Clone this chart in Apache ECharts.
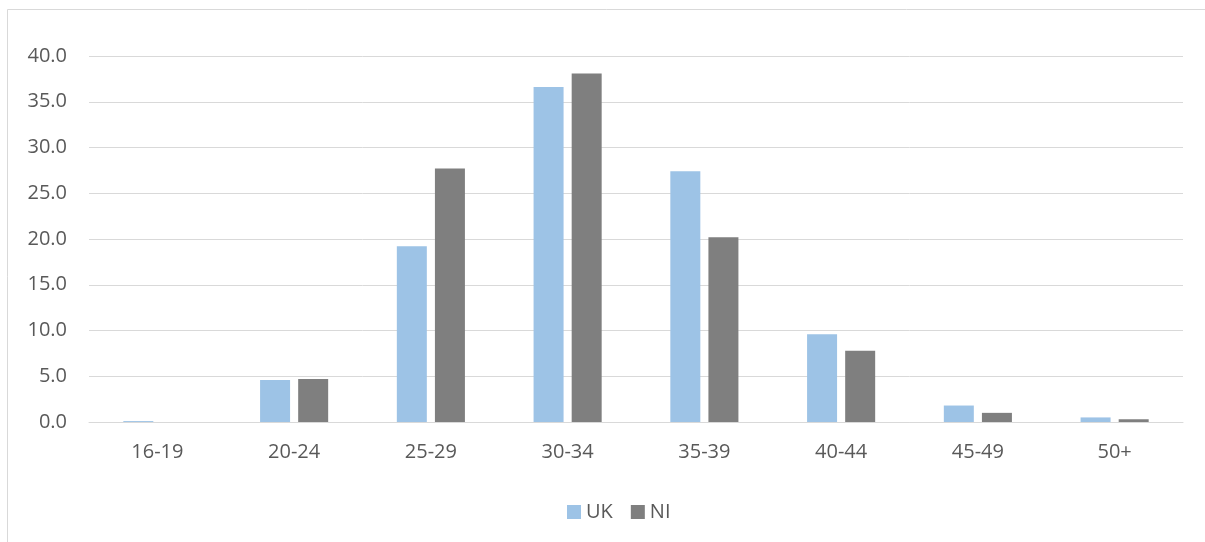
<!DOCTYPE html>
<html>
<head>
<meta charset="utf-8">
<script src="https://cdn.jsdelivr.net/npm/echarts@6/dist/echarts.min.js"></script>
<style>
html,body{margin:0;padding:0;background:#fff;}
#c{width:1205px;height:542px;}
</style>
</head>
<body>
<div id="c"></div>
<script>
var categories = ['16-19','20-24','25-29','30-34','35-39','40-44','45-49','50+'];
var ukValues = [0.1, 4.6, 19.2, 36.6, 27.4, 9.6, 1.8, 0.5];
var niValues = [0.0, 4.7, 27.7, 38.1, 20.2, 7.8, 1.0, 0.3];
var seriesNames = ['UK', 'NI'];

var chart = echarts.init(document.getElementById('c'), null, {renderer: 'canvas'});
var font = '"Open Sans", "Liberation Sans", sans-serif';
chart.setOption({
  animation: false,
  backgroundColor: '#ffffff',
  graphic: [{
    type: 'rect',
    shape: {x: 7.5, y: 9.5, width: 1230, height: 560},
    style: {fill: 'none', stroke: '#d9d9d9', lineWidth: 1},
    silent: true
  }],
  grid: {left: 89, right: 22, top: 56, bottom: 120, containLabel: false},
  legend: {
    data: seriesNames,
    left: 562,
    top: 497,
    itemWidth: 14,
    itemHeight: 14,
    itemGap: 18,
    icon: 'rect',
    textStyle: {color: '#595959', fontSize: 20, fontFamily: font}
  },
  xAxis: {
    type: 'category',
    data: categories,
    axisLine: {lineStyle: {color: '#d9d9d9', width: 1}},
    axisTick: {show: false},
    axisLabel: {color: '#595959', fontSize: 20, fontFamily: font, margin: 20}
  },
  yAxis: {
    type: 'value',
    min: 0,
    max: 40,
    interval: 5,
    axisLine: {show: false},
    axisTick: {show: false},
    splitLine: {lineStyle: {color: '#d9d9d9', width: 1}},
    axisLabel: {color: '#595959', fontSize: 20, fontFamily: font, margin: 22,
      formatter: function(v){ return v.toFixed(1); }}
  },
  series: [
    {name: seriesNames[0], type: 'bar', data: ukValues, barWidth: 30, barGap: '27%',
     itemStyle: {color: '#9dc3e6'}},
    {name: seriesNames[1], type: 'bar', data: niValues, barWidth: 30, barGap: '27%',
     itemStyle: {color: '#7f7f7f'}}
  ]
});
</script>
</body>
</html>
